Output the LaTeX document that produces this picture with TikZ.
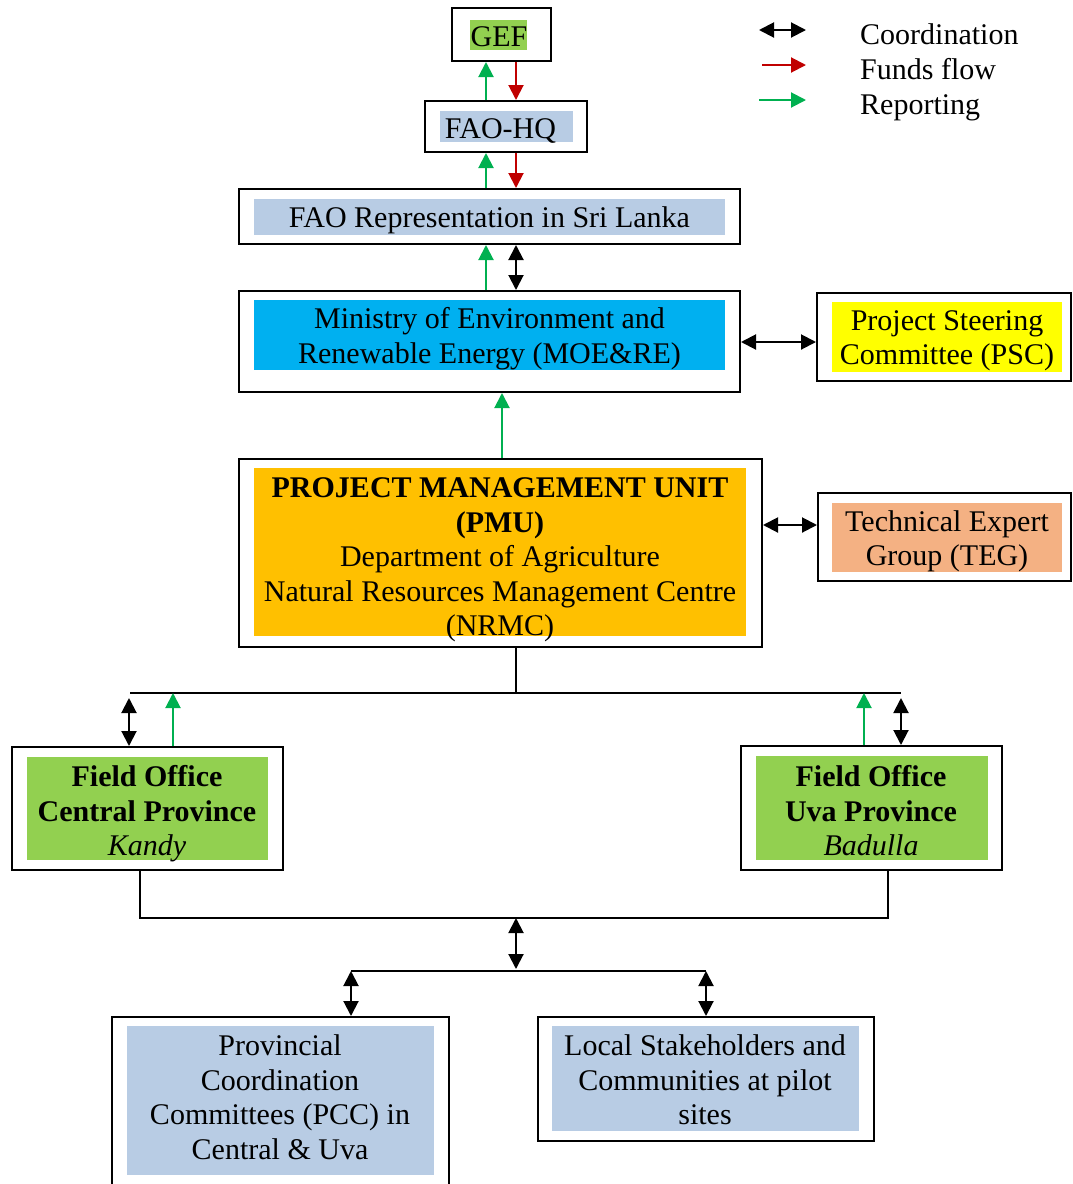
\documentclass[tikz,border=0pt]{standalone}
\usepackage{fontspec}
\setmainfont{Liberation Serif}
\usetikzlibrary{arrows.meta}
\definecolor{cgreen}{HTML}{92D050}
\definecolor{cblue}{HTML}{B8CCE4}
\definecolor{ccyan}{HTML}{00B0F0}
\definecolor{cyellow}{HTML}{FFFF00}
\definecolor{corange}{HTML}{FFC000}
\definecolor{cpeach}{HTML}{F4B183}
\definecolor{ared}{HTML}{C00000}
\definecolor{agreen}{HTML}{00B050}
\begin{document}
\begin{tikzpicture}[x=1pt,y=-1pt,
  obox/.style={draw=black, line width=2pt, fill=white, inner sep=0pt},
  hl/.style={inner sep=0pt, draw=none},
  txt/.style={inner sep=0pt, align=center, font=\fontsize{30}{34.5}\selectfont},
  coordarrow/.style={draw=black, line width=2pt, {Triangle[length=15pt,width=15pt]}-{Triangle[length=15pt,width=15pt]}},
  funds/.style={draw=ared, line width=2pt, -{Triangle[length=15pt,width=15pt]}},
  rep/.style={draw=agreen, line width=2pt, -{Triangle[length=15pt,width=15pt]}},
  link/.style={draw=black, line width=2pt}
]
\useasboundingbox (0,0) rectangle (1072,1184);
\fill[white] (0,0) rectangle (1072,1184);

% named x positions
\coordinate (g1) at (486,0);
\coordinate (r1) at (516,0);
\coordinate (c502) at (502,0);
\coordinate (yt) at (0,525);
\coordinate (ym) at (0,342);

% GEF
\node[obox, minimum width=99pt, minimum height=53pt] (gef) at (501.5,34.5) {};
\node[hl, fill=cgreen, minimum width=57pt, minimum height=30pt] (gefhl) at (498.5,35) {};
\node[txt] (geft) at (499,37) {GEF};

% FAO-HQ
\node[obox, minimum width=162pt, minimum height=51pt] (faohq) at (506,126.5) {};
\node[hl, fill=cblue, minimum width=133pt, minimum height=31pt] (faohqhl) at (506.5,126.5) {};
\node[txt] (faohqt) at (500.5,131) {FAO-HQ};

% FAO Representation
\node[obox, minimum width=501pt, minimum height=55pt] (faorep) at (489.5,216.5) {};
\node[hl, fill=cblue, minimum width=471pt, minimum height=36pt] (faorephl) at (489.5,217) {};
\node[txt] (faorept) at (489.5,220) {FAO Representation in Sri Lanka};

% MOE&RE
\node[obox, minimum width=501pt, minimum height=101pt] (moe) at (489.5,341.5) {};
\node[hl, fill=ccyan, minimum width=471pt, minimum height=70pt] (moehl) at (489.5,335) {};
\node[txt] (moet) at (489.5,338.5) {Ministry of Environment and\\Renewable Energy (MOE\&RE)};

% PSC
\node[obox, minimum width=254pt, minimum height=88pt] (psc) at (944,337) {};
\node[hl, fill=cyellow, minimum width=230pt, minimum height=70pt] (pschl) at (947,337) {};
\node[txt] (psct) at (947,341) {Project Steering\\Committee (PSC)};

% PMU
\node[obox, minimum width=523pt, minimum height=188pt] (pmu) at (500.5,553) {};
\node[hl, fill=corange, minimum width=492pt, minimum height=168pt] (pmuhl) at (500,552) {};
\node[txt] (pmut) at (500,560) {\textbf{PROJECT MANAGEMENT UNIT}\\\textbf{(PMU)}\\Department of Agriculture\\Natural Resources Management Centre\\(NRMC)};

% TEG
\node[obox, minimum width=253pt, minimum height=88pt] (teg) at (944.5,537) {};
\node[hl, fill=cpeach, minimum width=230pt, minimum height=69pt] (teghl) at (947,537.5) {};
\node[txt] (tegt) at (947,541.5) {Technical Expert\\Group (TEG)};

% Field Office Central
\node[obox, minimum width=271pt, minimum height=123pt] (foc) at (147.5,808.5) {};
\node[hl, fill=cgreen, minimum width=241pt, minimum height=103pt] (fochl) at (147.5,808.5) {};
\node[txt] (foct) at (147,814) {\textbf{Field Office}\\\textbf{Central Province}\\\textit{Kandy}};

% Field Office Uva
\node[obox, minimum width=261pt, minimum height=124pt] (fou) at (871.5,808) {};
\node[hl, fill=cgreen, minimum width=232pt, minimum height=104pt] (fouhl) at (872,808) {};
\node[txt] (fout) at (871,811) {\textbf{Field Office}\\\textbf{Uva Province}\\\textit{Badulla}};

% PCC
\node[obox, minimum width=337pt, minimum height=180pt] (pcc) at (280.5,1107) {};
\node[hl, fill=cblue, minimum width=307pt, minimum height=149pt] (pcchl) at (280.5,1100.5) {};
\node[txt] (pcct) at (280,1097) {Provincial\\Coordination\\Committees (PCC) in\\Central \& Uva};

% Local stakeholders
\node[obox, minimum width=336pt, minimum height=124pt] (local) at (706,1079) {};
\node[hl, fill=cblue, minimum width=307pt, minimum height=105pt] (localhl) at (705.5,1078.5) {};
\node[txt] (localt) at (705,1080) {Local Stakeholders and\\Communities at pilot\\sites};

% connectors top
\draw[rep] (faohq.north -| g1) -- (gef.south -| g1);
\draw[funds] (gef.south -| r1) -- (faohq.north -| r1);
\draw[rep] (faorep.north -| g1) -- (faohq.south -| g1);
\draw[funds] (faohq.south -| r1) -- (faorep.north -| r1);
\draw[rep] (moe.north -| g1) -- (faorep.south -| g1);
\draw[coordarrow] (faorep.south -| r1) -- (moe.north -| r1);
\draw[coordarrow] (moe.east |- ym) -- (psc.west |- ym);
\draw[rep] (pmu.north -| c502) -- (moe.south -| c502);
\draw[coordarrow] (pmu.east |- yt) -- (teg.west |- yt);

% PMU to field offices
\coordinate (busL) at (130,693);
\coordinate (busR) at (901,693);
\coordinate (cl) at (129,698);
\coordinate (gl) at (173,693);
\coordinate (gr) at (864,693);
\coordinate (cr) at (901,698);
\draw[link] (pmu.south -| r1) -- (r1 |- busL);
\draw[link] (busL) -- (busR);
\draw[coordarrow] (cl) -- (foc.north -| cl);
\draw[rep] (foc.north -| gl) -- (gl);
\draw[rep] (fou.north -| gr) -- (gr);
\draw[coordarrow] (cr) -- (fou.north -| cr);

% field offices to bottom
\coordinate (bl) at (140,918);
\coordinate (br) at (888,918);
\coordinate (m1) at (516,918);
\coordinate (m2) at (516,969);
\coordinate (pl) at (351,971);
\coordinate (pr) at (706,971);
\draw[link] (foc.south -| bl) -- (bl) -- (br) -- (fou.south -| br);
\draw[coordarrow] (m1) -- (m2);
\draw[link] (pl) -- (pr);
\draw[coordarrow] (pl) -- (pcc.north -| pl);
\draw[coordarrow] (pr) -- (local.north -| pr);

% legend
\coordinate (lc1) at (759,30);
\coordinate (lc2) at (806,30);
\coordinate (lf1) at (762,65);
\coordinate (lf2) at (806,65);
\coordinate (lr1) at (759,100);
\coordinate (lr2) at (806,100);
\draw[coordarrow] (lc1) -- (lc2);
\draw[funds] (lf1) -- (lf2);
\draw[rep] (lr1) -- (lr2);
\node[txt, anchor=base west] (legc) at (860,44) {Coordination};
\node[txt, anchor=base west] (legf) at (860,79) {Funds flow};
\node[txt, anchor=base west] (legr) at (860,114) {Reporting};
\end{tikzpicture}
\end{document}
